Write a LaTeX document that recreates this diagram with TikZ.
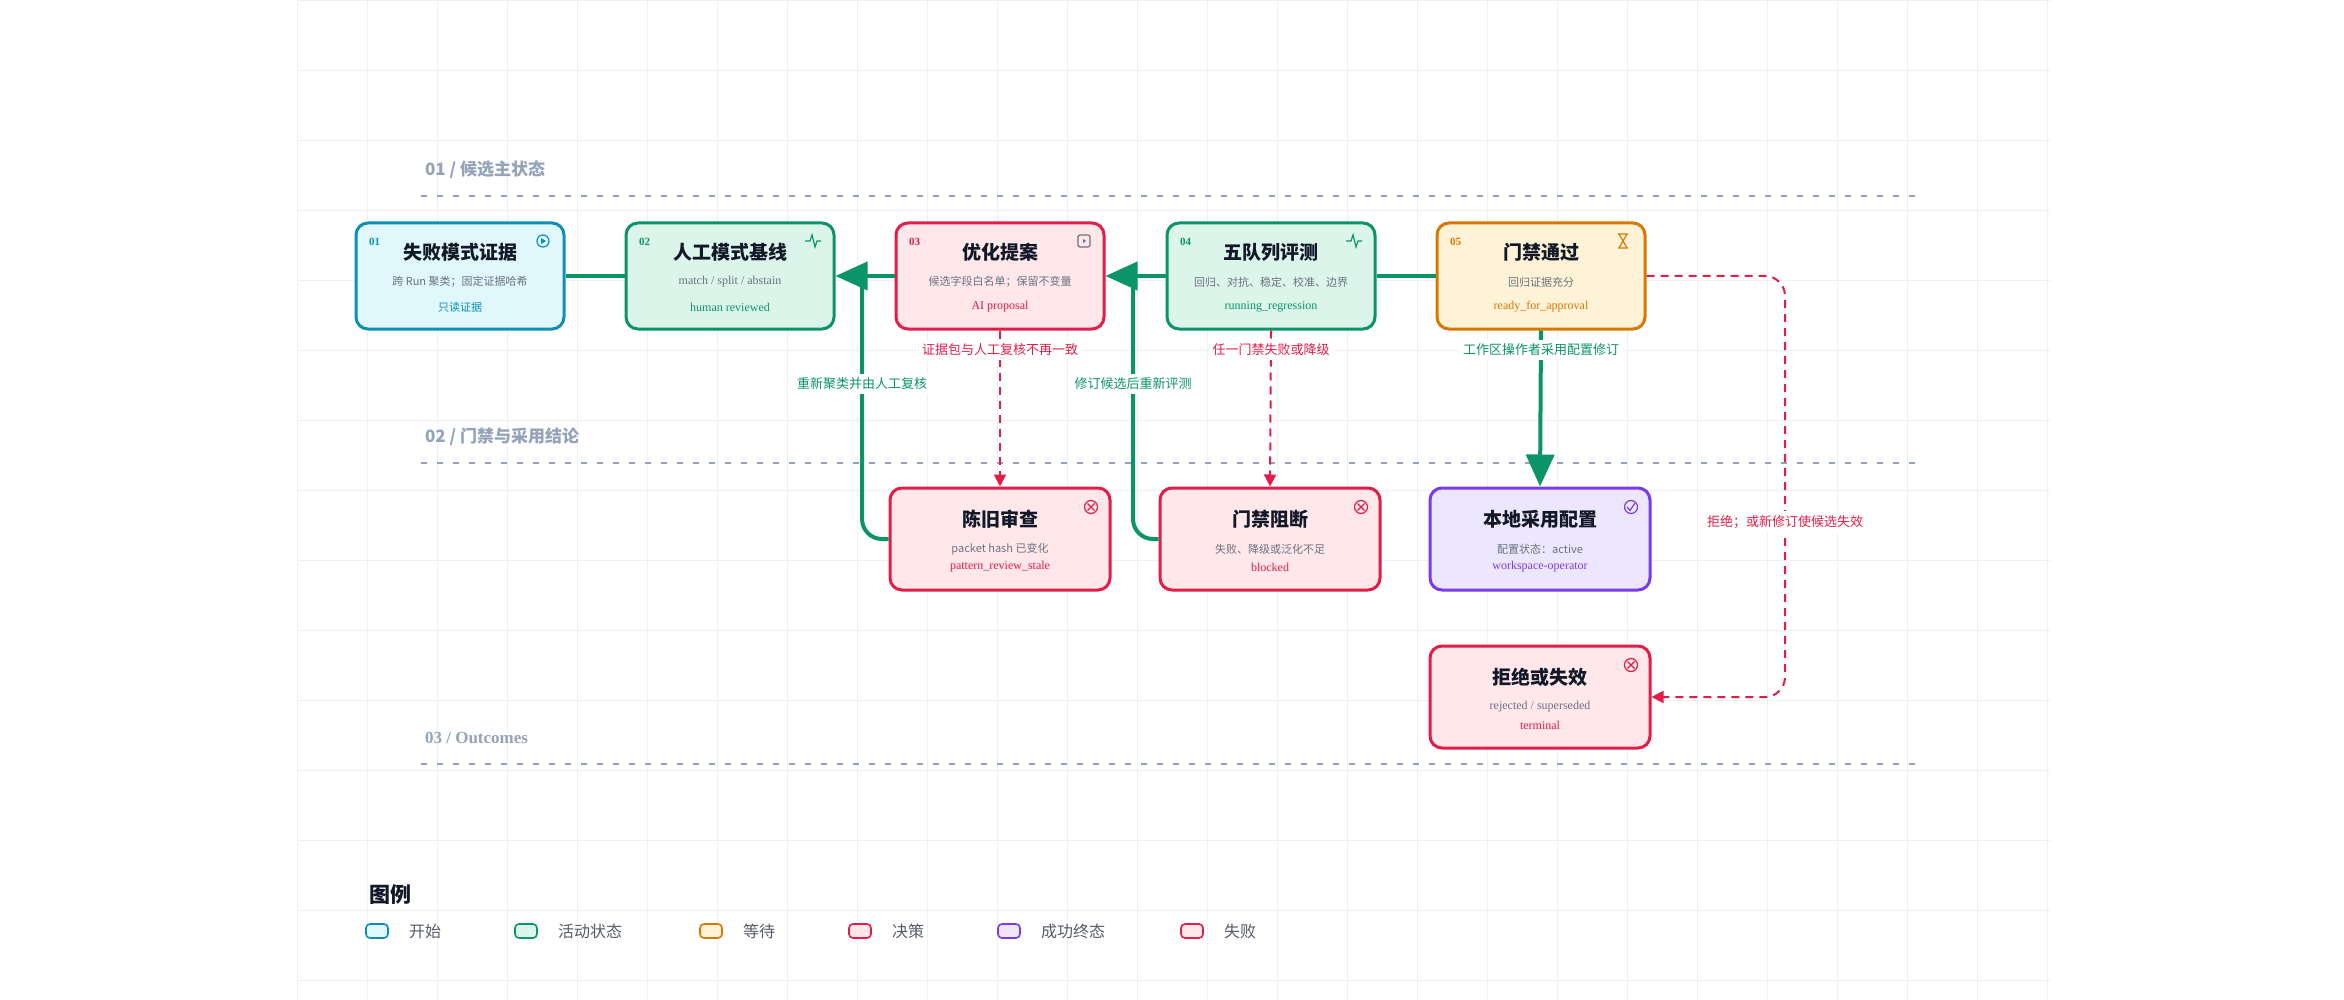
\documentclass[tikz,border=0pt]{standalone}
\usepackage{fontspec}
\setmainfont{Liberation Serif}
\newfontfamily\cjk{Noto Sans CJK SC}
\usetikzlibrary{arrows.meta}
\definecolor{cyb}{HTML}{0E8FB5}\definecolor{cyf}{HTML}{E0F7FB}
\definecolor{grb}{HTML}{0B9467}\definecolor{grf}{HTML}{DCF5EA}
\definecolor{rdb}{HTML}{E11D48}\definecolor{rdf}{HTML}{FFE7EA}
\definecolor{orb}{HTML}{D97706}\definecolor{orf}{HTML}{FEF3D6}
\definecolor{pub}{HTML}{7C3AED}\definecolor{puf}{HTML}{EDE7FE}
\definecolor{slate}{HTML}{94A3B8}\definecolor{sub}{HTML}{6B7280}
\definecolor{ink}{HTML}{111827}\definecolor{gridc}{HTML}{EEF0F3}
\tikzset{
 box/.style={draw=#1b,fill=#1f,line width=1.5pt,rounded corners=6pt,minimum width=104pt,minimum height=53pt,inner sep=0pt},
 boxb/.style={box=#1,minimum width=110pt,minimum height=51pt},
 ttl/.style={font=\cjk\bfseries\fontsize{9.5}{10}\selectfont,text=ink},
 sbt/.style={font=\cjk\fontsize{5.5}{6}\selectfont,text=sub},
 sbl/.style={font=\fontsize{6}{6}\selectfont,text=sub},
 tag/.style={font=\fontsize{6}{6}\selectfont,text=#1},
 tagc/.style={font=\cjk\fontsize{5.5}{6}\selectfont,text=#1},
 num/.style={font=\bfseries\fontsize{5.5}{6}\selectfont,text=#1},
 sec/.style={font=\cjk\bfseries\fontsize{8.5}{9}\selectfont,text=slate,anchor=west},
 secl/.style={draw=slate,line width=0.6pt,dash pattern=on 3pt off 5pt},
 gflow/.style={draw=grb,line width=2pt},
 garr/.style={gflow,-{Triangle[length=16pt,width=14pt]}},
 rarr/.style={draw=rdb,line width=1pt,dash pattern=on 4pt off 3pt,-{Triangle[length=6pt,width=6pt]}},
 elab/.style={font=\cjk\fontsize{6.5}{7}\selectfont,fill=white,inner sep=2pt,text=#1},
 leg/.style={draw=#1b,fill=#1f,line width=0.8pt,rounded corners=2pt,minimum width=11pt,minimum height=7pt,inner sep=0pt},
 legt/.style={font=\cjk\fontsize{8}{9}\selectfont,text=sub!80!black,anchor=west},
}
\begin{document}
\begin{tikzpicture}[x=0.5pt,y=-0.5pt]
\useasboundingbox (0,0) rectangle (2344,1000);
\fill[white] (0,0) rectangle (2344,1000);
\foreach \x in {297,367,...,2060} \draw[gridc,line width=0.4pt] (\x,0)--(\x,1000);
\foreach \y in {0,70,...,1000} \draw[gridc,line width=0.4pt] (297,\y)--(2050,\y);
% sections
\node[sec] (s1) at (418,170) {01 / 候选主状态};
\draw[secl] (421,196)--(1915,196);
\node[sec] (s2) at (418,437) {02 / 门禁与采用结论};
\draw[secl] (421,463)--(1915,463);
\node[sec,font=\bfseries\fontsize{8.5}{9}\selectfont] (s3) at (418,738) {03 / Outcomes};
\draw[secl] (421,764)--(1915,764);
% top row
\node[box=cy] (n1) at (460,276) {};
\node[box=gr] (n2) at (730,276) {};
\node[box=rd] (n3) at (1000,276) {};
\node[box=gr] (n4) at (1271,276) {};
\node[box=or] (n5) at (1541,276) {};
\foreach \n/\c/\k in {n1/cyb/01,n2/grb/02,n3/rdb/03,n4/grb/04,n5/orb/05}
  \node[num=\c] (\n num) at ([xshift=10pt,yshift=-10pt]\n.north west) {\k};
\node[ttl] (n1t) at (460,252) {失败模式证据};
\node[sbt] (n1s) at (460,282) {跨 Run 聚类；固定证据哈希};
\node[tagc=cyb] (n1g) at (460,307) {只读证据};
\node[ttl] (n2t) at (730,252) {人工模式基线};
\node[sbl] (n2s) at (730,282) {match / split / abstain};
\node[tag=grb] (n2g) at (730,307) {human reviewed};
\node[ttl] (n3t) at (1000,252) {优化提案};
\node[sbt] (n3s) at (1000,282) {候选字段白名单；保留不变量};
\node[tag=rdb] (n3g) at (1000,307) {AI proposal};
\node[ttl] (n4t) at (1271,252) {五队列评测};
\node[sbt] (n4s) at (1271,282) {回归、对抗、稳定、校准、边界};
\node[tag=grb] (n4g) at (1271,307) {running\_regression};
\node[ttl] (n5t) at (1541,252) {门禁通过};
\node[sbt] (n5s) at (1541,282) {回归证据充分};
\node[tag=orb] (n5g) at (1541,307) {ready\_for\_approval};
% second row
\node[boxb=rd] (n6) at (1000,539) {};
\node[boxb=rd] (n7) at (1270,539) {};
\node[boxb=pu] (n8) at (1540,539) {};
\node[boxb=rd] (n9) at (1540,697) {};
\node[ttl] (n6t) at (1000,519) {陈旧审查};
\node[sbt] (n6s) at (1000,549) {packet hash 已变化};
\node[tag=rdb] (n6g) at (1000,567) {pattern\_review\_stale};
\node[ttl] (n7t) at (1270,519) {门禁阻断};
\node[sbt] (n7s) at (1270,549) {失败、降级或泛化不足};
\node[tag=rdb] (n7g) at (1270,567) {blocked};
\node[ttl] (n8t) at (1540,519) {本地采用配置};
\node[sbt] (n8s) at (1540,549) {配置状态：active};
\node[tag=pub] (n8g) at (1540,567) {workspace-operator};
\node[ttl] (n9t) at (1540,677) {拒绝或失效};
\node[sbl] (n9s) at (1540,707) {rejected / superseded};
\node[tag=rdb] (n9g) at (1540,725) {terminal};
% icons
\begin{scope}[line width=0.6pt]
\draw[cyb] (543,241) circle (6);
\fill[cyb] (541,238)--(541,244)--(546,241)--cycle;
\foreach \x in {813,1354} \draw[grb] (\x-8,241)--(\x-3,241)--(\x-1,235)--(\x+2,247)--(\x+4,241)--(\x+8,241);
\draw[sub,rounded corners=1pt] (1078,235) rectangle (1090,247);
\fill[sub] (1083,239)--(1083,243)--(1086,241)--cycle;
\draw[orb] (1618,234)--(1628,234) (1618,248)--(1628,248) (1619,234)--(1627,248) (1627,234)--(1619,248);
\foreach \x/\y in {1091/507,1361/507,1631/665}{\draw[rdb] (\x,\y) circle (6.5); \draw[rdb] (\x-3.5,\y-3.5)--(\x+3.5,\y+3.5) (\x-3.5,\y+3.5)--(\x+3.5,\y-3.5);}
\draw[pub] (1631,507) circle (6.5); \draw[pub] (1627,507)--(1630,510.5)--(1635,503);
\end{scope}
% edges
\draw[gflow] (n1.east)--(n2.west);
\draw[gflow] (n5.west)--(n4.east);
\draw[garr] (n3.west)--(n2.east);
\draw[garr] (n4.west)--(n3.east);
\coordinate (c2) at (862,276); \coordinate (c3) at (1133,276);
\draw[gflow,rounded corners=10pt] (n6.west)--(862,539)--(c2);
\draw[gflow,rounded corners=10pt] (n7.west)--(1133,539)--(c3);
\node[elab=grb] (l1) at (862,384) {重新聚类并由人工复核};
\node[elab=grb] (l2) at (1133,384) {修订候选后重新评测};
\draw[rarr] (n3.south)--(n6.north);
\draw[rarr] (n4.south)--(n7.north);
\node[elab=rdb] (l3) at (1000,350) {证据包与人工复核不再一致};
\node[elab=rdb] (l4) at (1271,350) {任一门禁失败或降级};
\draw[garr] (n5.south)--(n8.north);
\node[elab=grb] (l5) at (1541,350) {工作区操作者采用配置修订};
\draw[rarr,rounded corners=10pt] (n5.east)--(1785,276)--(1785,697)--(n9.east);
\node[elab=rdb] (l6) at (1785,522) {拒绝；或新修订使候选失效};
% legend
\node[font=\cjk\bfseries\fontsize{10.5}{11}\selectfont,text=ink,anchor=west] (lg) at (362,895) {图例};
\foreach \i/\x/\c/\t in {a/377/cy/开始,b/526/gr/活动状态,c/711/or/等待,d/860/rd/决策,e/1009/pu/成功终态,f/1192/rd/失败 / 退出}{
 \node[leg=\c] (lg\i) at (\x,931) {};
 \node[legt] (lt\i) at (\x+25,931) {\t};
}
\end{tikzpicture}
\end{document}
